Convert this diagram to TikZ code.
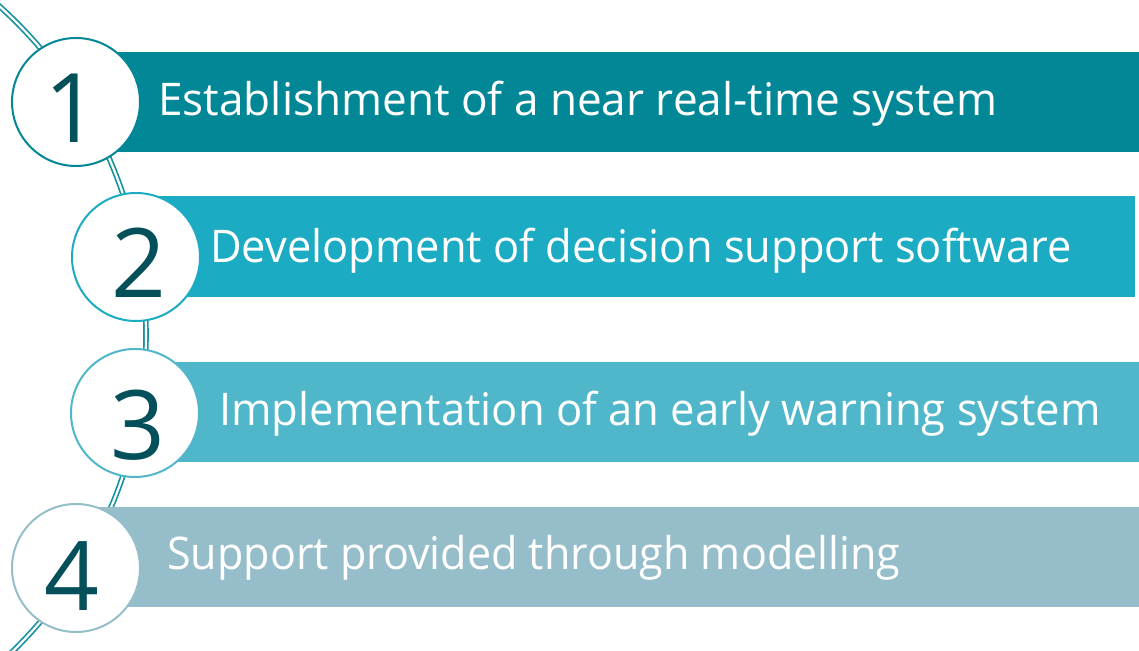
\documentclass[tikz,border=0pt]{standalone}
\usepackage{fontspec}
\setmainfont{Open Sans}
\begin{document}
\definecolor{barA}{HTML}{028797}
\definecolor{barB}{HTML}{1BABC3}
\definecolor{barC}{HTML}{50B6C9}
\definecolor{barD}{HTML}{96BECA}
\definecolor{digit}{HTML}{034F5A}
\definecolor{spine}{HTML}{15929F}
\newcommand{\bandtext}[2]{\scalebox{#1}[1]{#2}}
\begin{tikzpicture}[x=1pt,y=1pt,
  badge/.style={circle,fill=white,line width=2pt,minimum size=128pt,inner sep=0pt},
  num/.style={anchor=base,text=digit,font=\fontsize{96}{96}\selectfont,inner sep=0pt},
  label/.style={anchor=base west,text=white,font=\fontsize{45}{45}\selectfont,inner sep=0pt}]
\useasboundingbox (0,0) rectangle (1139,650);
\clip (0,0) rectangle (1139,650);
% curved double spine behind the badges
\coordinate (hub) at (-296,315);
\draw[spine,line width=1.7pt,double=white,double distance=2.2pt]
  (hub) ++(54:442) arc[start angle=54,end angle=-54,radius=442];
% coloured bands
\fill[barA] (76,498) rectangle (1139,598);
\fill[barB] (136,353) rectangle (1135,454);
\fill[barC] (135,188) rectangle (1139,288);
\fill[barD] (76,43) rectangle (1139,143);
% numbered badges
\node[badge,draw=barA] (c1) at (76,548) {};
\node[badge,draw=barB] (c2) at (136,393) {};
\node[badge,draw=barC] (c3) at (135,237) {};
\node[badge,draw=barD] (c4) at (76,82) {};
\node[num] (n1) at (72,507) {1};
\node[num] (n2) at (139,352) {2};
\node[num] (n3) at (138,190) {3};
\node[num] (n4) at (72,40) {4};
% band texts
\node[label] (t1) at (158,534) {\bandtext{0.98}{Establishment of a near real-time system}};
\node[label] (t2) at (210,387) {\bandtext{0.965}{Development of decision support software}};
\node[label] (t3) at (219,224) {\bandtext{0.968}{Implementation of an early warning system}};
\node[label] (t4) at (167,81) {\bandtext{0.957}{Support provided through modelling}};
\end{tikzpicture}
\end{document}
